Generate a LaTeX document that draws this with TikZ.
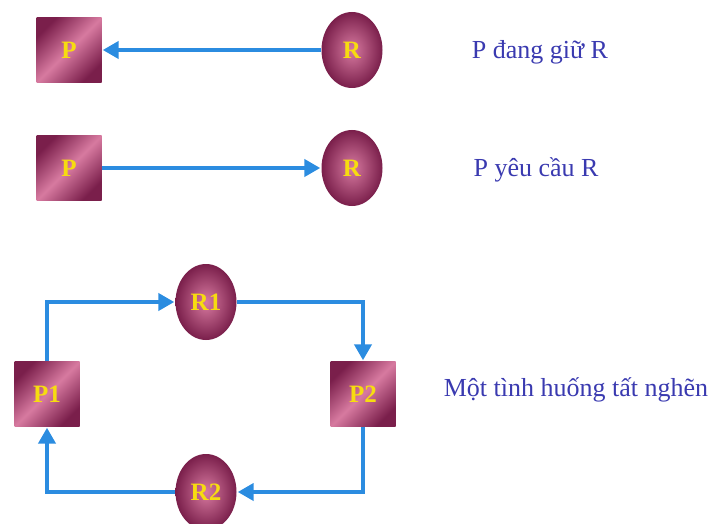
\documentclass[tikz,border=0pt]{standalone}
\usepackage{fontspec}
\setmainfont{Liberation Serif}
\usetikzlibrary{arrows.meta,shapes.geometric}
\definecolor{plum}{HTML}{7A1F4B}
\definecolor{rose}{HTML}{D77AA0}
\definecolor{wire}{HTML}{2B8CE0}
\definecolor{ink}{HTML}{3A3AB0}
\definecolor{gold}{HTML}{F7DC10}
\begin{document}
\begin{tikzpicture}[x=1pt,y=-1pt,>={Triangle[length=16pt,width=17pt]},shorten >=1pt]
        \tikzstyle{process}=[rectangle,minimum width=65pt,minimum height=65pt,inner sep=0pt,
          top color=plum,bottom color=plum,middle color=rose,shading angle=45,
          font=\fontsize{25}{25}\selectfont\bfseries,text=gold]
        \tikzstyle{resource}=[ellipse,minimum width=61pt,minimum height=76pt,inner sep=0pt,
          inner color=rose,outer color=plum,
          font=\fontsize{25}{25}\selectfont\bfseries,text=gold]
        \tikzstyle{edge}=[draw=wire,line width=4pt,->]
        \tikzstyle{caption}=[text=ink,font=\fontsize{26}{26}\selectfont]
        \useasboundingbox (0,0) rectangle (715,524);
       \begin{scope}
         % P holds R
         \node [process] (pa) at (69,50) {P};
         \node [resource] (ra) at (352,50) {R};
         \node [caption] (ca) at (540,52) {P đang giữ R};
         \path[edge] (ra) -- (pa);
         % P requests R
         \node [process] (pb) at (69,168) {P};
         \node [resource] (rb) at (352,168) {R};
         \node [caption] (cb) at (536,170) {P yêu cầu R};
         \path[edge] (pb) -- (rb);
        \end{scope}
       \begin{scope}
         % deadlock cycle
         \node [process] (p1) at (47,394) {P1};
         \node [process] (p2) at (363,394) {P2};
         \node [resource] (r1) at (206,302) {R1};
         \node [resource] (r2) at (206,492) {R2};
         \node [caption] (cc) at (576,390) {Một tình huống tất nghẽn};
         \path[edge] (p1.north) |- (r1.west);
         \path[edge] (r1.east) -| (p2.north);
         \path[edge] (p2.south) |- (r2.east);
         \path[edge] (r2.west) -| (p1.south);
        \end{scope}
      \end{tikzpicture}
\end{document}
